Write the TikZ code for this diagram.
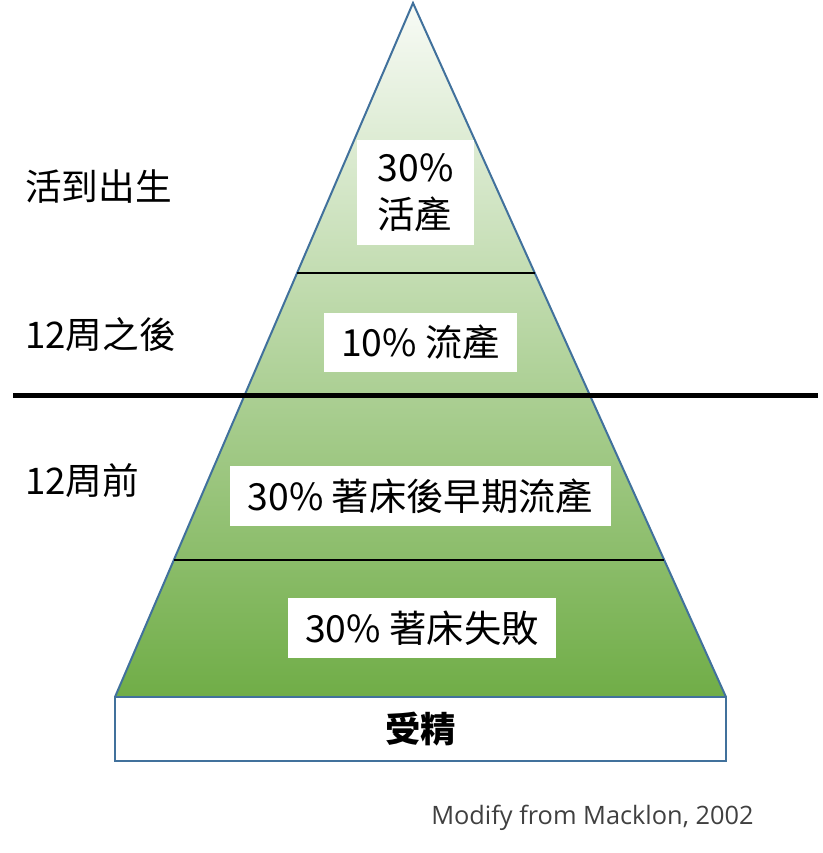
\documentclass[tikz,border=0pt]{standalone}
\usepackage{fontspec}
\setmainfont{Noto Sans CJK TC}
\newfontfamily\creditfont{Open Sans}
\definecolor{Edge}{HTML}{41719C}
\definecolor{Leaf}{HTML}{70AD47}
\definecolor{Pale}{HTML}{F8FBF6}
\definecolor{Note}{HTML}{404040}
\tikzset{
  stagebox/.style={fill=white,inner sep=0pt,align=center,font=\fontsize{28}{35}\selectfont},
  sidelabel/.style={anchor=west,inner sep=0pt,font=\fontsize{27.5}{32}\selectfont},
  cutline/.style={line width=1.5pt},
}

\begin{document}
\begin{tikzpicture}[x=0.75pt,y=-0.75pt]
  \useasboundingbox (0,0) rectangle (822,853);
  % pyramid
  \coordinate (apex) at (413,3);
  \coordinate (bl) at (115,697);
  \coordinate (br) at (726,697);
  \shade[top color=Pale,bottom color=Leaf] (apex)--(br)--(bl)--cycle;
  \draw[Edge,line width=1.5pt] (bl)--(apex)--(br);
  \path (apex)--(bl) coordinate[pos=.389] (l1) coordinate[pos=.8026] (l2);
  \path (apex)--(br) coordinate[pos=.389] (r1) coordinate[pos=.8026] (r2);
  \draw[cutline] (l1)--(r1);
  \draw[cutline] (l2)--(r2);
  % 12 week divider
  \coordinate (cutL) at (13,395);
  \coordinate (cutR) at (818,395);
  \draw[line width=3.75pt] (cutL)--(cutR);
  % stages
  \node[stagebox,align=left,minimum width=87.75pt,minimum height=78.75pt] (live) at (415.5,192.5) {30\%\\活產};
  \node[stagebox,minimum width=144.75pt,minimum height=44.25pt] (late) at (420.5,342.5) {10\% 流產};
  \node[stagebox,minimum width=285.75pt,minimum height=45pt] (early) at (420.5,496) {30\% 著床後早期流產};
  \node[stagebox,minimum width=201pt,minimum height=45pt] (fail) at (422,628) {30\% 著床失敗};
  \node[draw=Edge,fill=white,line width=1.5pt,inner sep=0pt,minimum width=458.25pt,minimum height=48pt,font=\fontsize{26.5}{32}\selectfont\bfseries] (fert) at (420.5,729) {受精};
  % side labels
  \node[sidelabel] (birth) at (25,187) {活到出生};
  \node[sidelabel] (after) at (25,335) {12周之後};
  \node[sidelabel] (before) at (25,481) {12周前};
  \node[anchor=west,inner sep=0pt,text=Note,font=\creditfont\fontsize{19}{23}\selectfont] (credit) at (431,818) {Modify from Macklon, 2002};
\end{tikzpicture}
\end{document}
